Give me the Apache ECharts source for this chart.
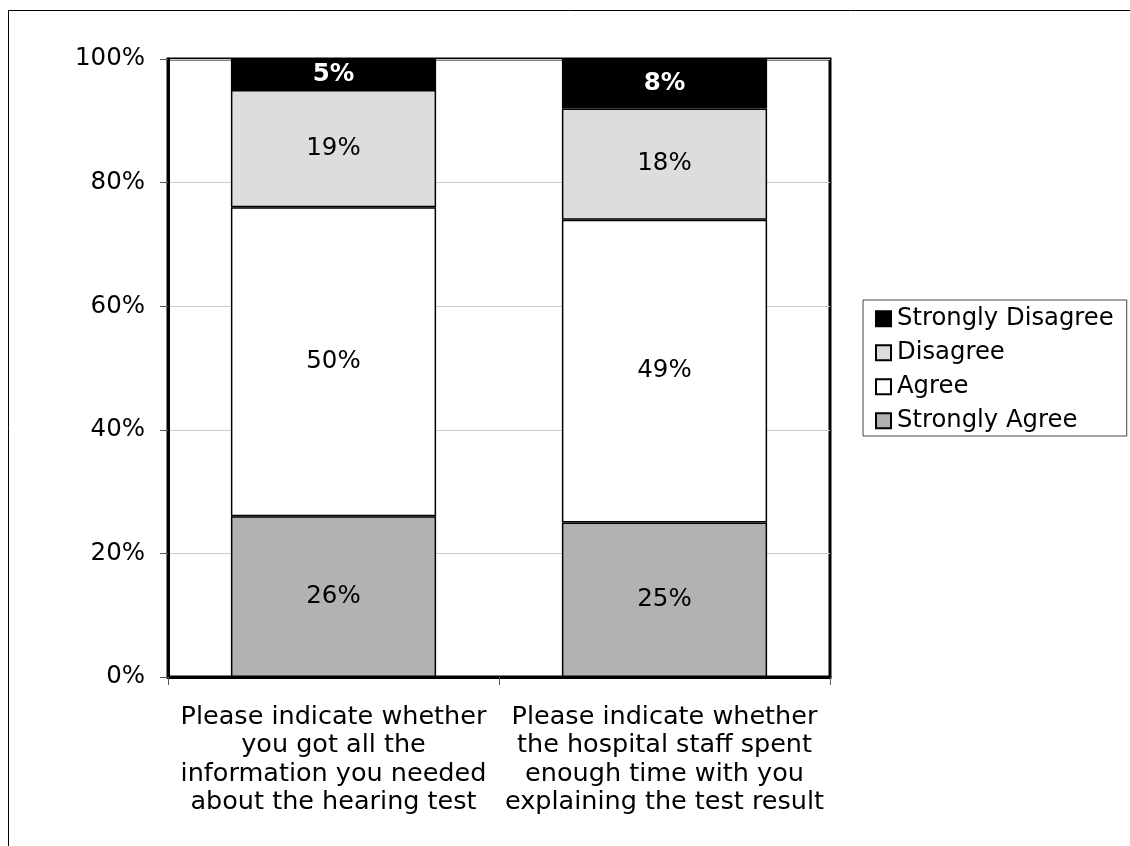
<!DOCTYPE html>
<html>
<head>
<meta charset="utf-8">
<script src="https://cdn.jsdelivr.net/npm/echarts@6/dist/echarts.min.js"></script>
<style>
  html, body { margin: 0; padding: 0; background: #fff; }
  #chart { width: 1130px; height: 846px; }
</style>
</head>
<body>
<div id="chart"></div>
<script>
// Survey questions (x categories)
const categories = [
  'Please indicate whether\nyou got all the\ninformation you needed\nabout the hearing test',
  'Please indicate whether\nthe hospital staff spent\nenough time with you\nexplaining the test result'
];

// Response shares in percent, one array per answer
const stronglyAgree    = [26, 25];
const agree            = [50, 49];
const disagree         = [19, 18];
const stronglyDisagree = [5, 8];

const yTicks = [0, 20, 40, 60, 80, 100];

const FONT = '"DejaVu Sans", Verdana, sans-serif';

const chart = echarts.init(document.getElementById('chart'), null, { renderer: 'canvas' });

function seg(name, data, color, labelColor, bold) {
  return {
    name: name,
    type: 'bar',
    stack: 'total',
    data: data,
    barWidth: '62%',
    itemStyle: { color: color, borderColor: '#000', borderWidth: 1.5 },
    label: {
      show: true,
      position: 'inside',
      formatter: p => p.value + '%',
      color: labelColor,
      fontFamily: FONT,
      fontSize: 24.5,
      fontWeight: bold ? 'bold' : 'normal'
    },
    emphasis: { disabled: true }
  };
}

chart.setOption({
  animation: false,
  backgroundColor: '#fff',
  textStyle: { fontFamily: FONT },
  graphic: [{
    type: 'rect',
    shape: { x: 8.5, y: 10.5, width: 1300, height: 1000 },
    style: { fill: 'none', stroke: '#000', lineWidth: 1 },
    silent: true,
    z: -10
  }],
  grid: {
    left: 168, right: 300, top: 59, bottom: 169,
    show: true,
    backgroundColor: '#fff',
    borderColor: '#000',
    borderWidth: 3
  },
  legend: {
    data: ['Strongly Disagree', 'Disagree', 'Agree', 'Strongly Agree'],
    orient: 'vertical',
    left: 863,
    top: 300,
    itemWidth: 15,
    itemHeight: 15,
    itemGap: 9.5,
    icon: 'rect',
    padding: [6.5, 13, 3, 12],
    borderColor: '#444',
    borderWidth: 1,
    backgroundColor: '#fff',
    textStyle: { fontFamily: FONT, fontSize: 24.3, color: '#000', lineHeight: 24.5, padding: [0, 0, 0, 1] },
    selectedMode: false
  },
  xAxis: {
    type: 'category',
    data: categories,
    axisLine: { lineStyle: { color: '#000', width: 3 } },
    axisTick: { show: true, length: 8, lineStyle: { color: '#555', width: 1 } },
    axisLabel: {
      color: '#000',
      fontFamily: FONT,
      fontSize: 25.5,
      lineHeight: 28.5,
      margin: 26,
      interval: 0,
      align: 'center'
    },
    splitLine: { show: false }
  },
  yAxis: {
    type: 'value',
    min: yTicks[0],
    max: yTicks[yTicks.length - 1],
    interval: 20,
    axisLine: { show: true, lineStyle: { color: '#000', width: 3 } },
    axisTick: { show: true, length: 8, lineStyle: { color: '#555', width: 1 } },
    axisLabel: {
      color: '#000',
      fontFamily: FONT,
      fontSize: 24.5,
      margin: 23,
      formatter: v => v + '%'
    },
    splitLine: { show: true, lineStyle: { color: '#cccccc', width: 1 } }
  },
  series: [
    seg('Strongly Agree', stronglyAgree, '#b2b2b2', '#000', false),
    seg('Agree', agree, '#ffffff', '#000', false),
    seg('Disagree', disagree, '#dddddd', '#000', false),
    seg('Strongly Disagree', stronglyDisagree, '#000000', '#fff', true)
  ]
});
</script>
</body>
</html>
